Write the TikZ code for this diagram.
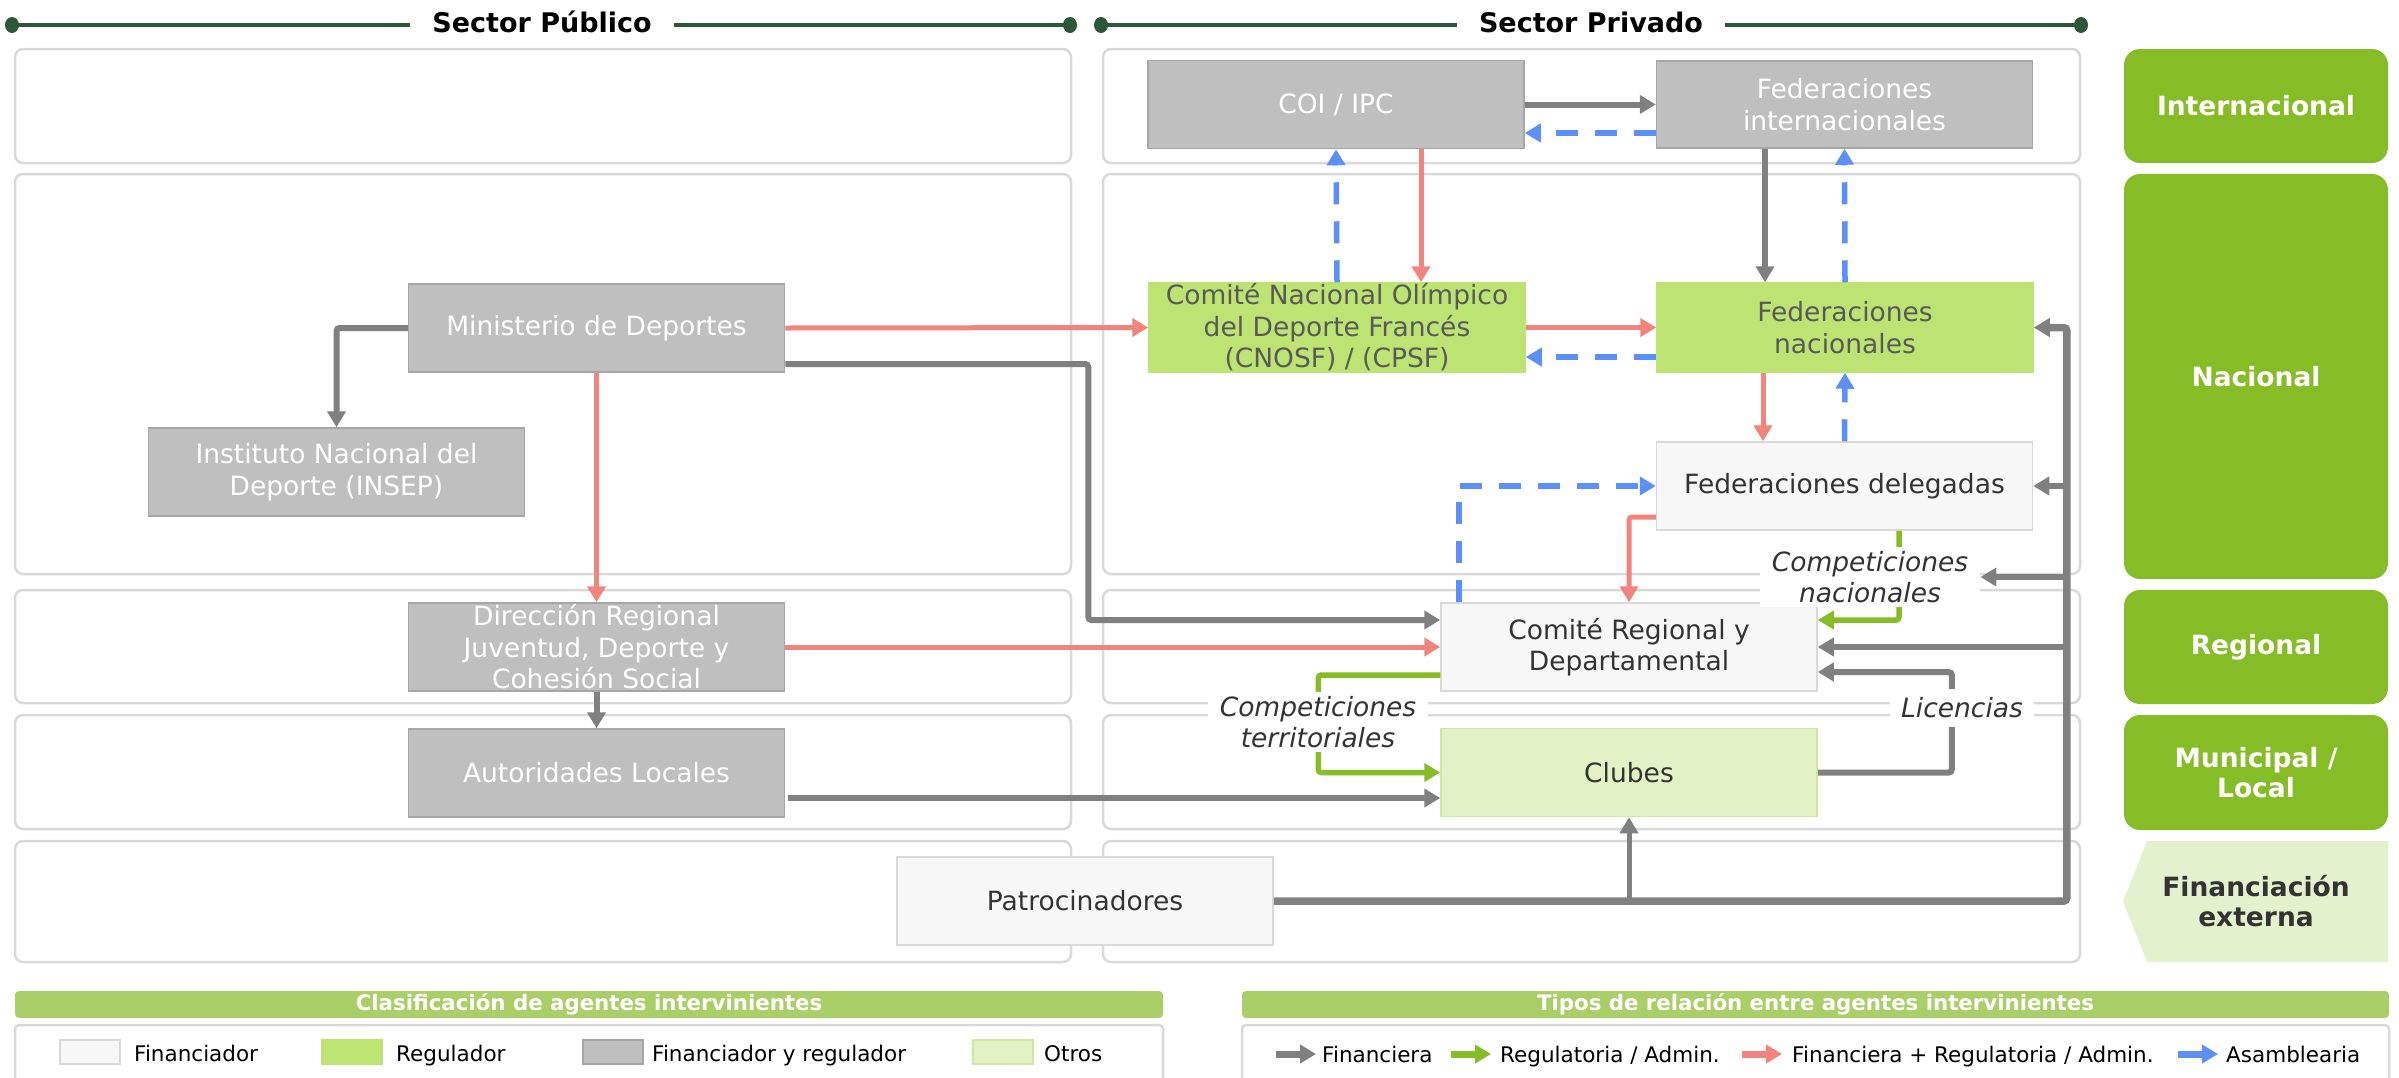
\documentclass[tikz,border=0pt]{standalone}
\usepackage{fontspec}
\setmainfont{DejaVu Sans}
\usetikzlibrary{arrows.meta,calc}
\definecolor{cgray}{RGB}{128,128,128}
\definecolor{cred}{RGB}{239,133,124}
\definecolor{cblue}{RGB}{91,143,249}
\definecolor{cgreen}{RGB}{134,188,37}
\definecolor{boxgray}{RGB}{191,191,191}
\definecolor{boxgrayb}{RGB}{166,166,166}
\definecolor{boxreg}{RGB}{189,228,114}
\definecolor{boxfin}{RGB}{247,247,247}
\definecolor{boxfinb}{RGB}{217,217,217}
\definecolor{boxotr}{RGB}{226,242,196}
\definecolor{boxotrb}{RGB}{205,233,160}
\definecolor{panelb}{RGB}{217,217,217}
\definecolor{hdr}{RGB}{45,88,56}
\definecolor{legbar}{RGB}{170,207,104}
\definecolor{extfill}{RGB}{227,242,205}
\definecolor{txtdark}{RGB}{51,51,51}
\definecolor{txtgreen}{RGB}{89,89,89}
\tikzset{
  agent/.style={draw, line width=1.5pt, inner sep=0pt, align=center,
    font=\fontsize{26.5}{31.5}\selectfont, minimum width=376pt, minimum height=88pt},
  grayag/.style={agent, fill=boxgray, draw=boxgrayb, text=white},
  regag/.style={agent, fill=boxreg, draw=boxreg, text=txtgreen},
  finag/.style={agent, fill=boxfin, draw=boxfinb, text=txtdark},
  otrag/.style={agent, fill=boxotr, draw=boxotrb, text=txtdark},
  tip/.style={-{Triangle[length=16pt,width=18pt]}},
  fin/.style={draw=cgray, line width=6pt, tip},
  reg/.style={draw=cgreen, line width=5.5pt, tip},
  frg/.style={draw=cred, line width=5pt, tip},
  asm/.style={draw=cblue, line width=5.5pt, dash pattern=on 22pt off 17pt, tip},
  lbl/.style={fill=white, font=\fontsize{26.5}{31.5}\selectfont\itshape, text=txtdark,
    align=center, inner xsep=12pt, inner ysep=4pt},
  panel/.style={draw=panelb, line width=2.5pt, rounded corners=8pt},
  lvl/.style={fill=cgreen, rounded corners=16pt, text=white, inner sep=0pt,
    font=\fontsize{26.5}{30}\selectfont\bfseries, align=center, minimum width=264pt},
  hdrtxt/.style={font=\fontsize{27}{30}\selectfont\bfseries, text=black, inner xsep=22pt, inner ysep=2pt},
  legbarst/.style={fill=legbar, rounded corners=4pt, text=white, inner sep=0pt,
    font=\fontsize{21.3}{24}\selectfont\bfseries, minimum height=27pt},
  legtxt/.style={anchor=base west, inner sep=0pt, text=black, font=\fontsize{21.5}{25}\selectfont},
  swatch/.style={line width=1.5pt, minimum width=60pt, minimum height=24pt, inner sep=0pt},
}
\begin{document}
\begin{tikzpicture}[x=1pt,y=-1pt]
\useasboundingbox (0,0) rectangle (2399,1077);
\fill[white] (0,0) rectangle (2399,1077);

% ---------- headers
\coordinate (hl1) at (12,25);
\coordinate (hl2) at (1070,25);
\coordinate (hr1) at (1101,25);
\coordinate (hr2) at (2081,25);
\node[hdrtxt] (hpub) at (542,22) {Sector Público};
\node[hdrtxt] (hpri) at (1591,22) {Sector Privado};
\draw[hdr, line width=3.5pt] (hl1) -- (hl1 -| hpub.west);
\draw[hdr, line width=3.5pt] (hl2 -| hpub.east) -- (hl2);
\draw[hdr, line width=3.5pt] (hr1) -- (hr1 -| hpri.west);
\draw[hdr, line width=3.5pt] (hr2 -| hpri.east) -- (hr2);
\foreach \c in {hl1,hl2,hr1,hr2} \fill[hdr] (\c) ellipse (7pt and 8pt);

% ---------- panels
\foreach \ya/\yb in {49/163,174/574,590/703,715/829,841/962}{
  \draw[panel] (15,\ya) rectangle (1071,\yb);
  \draw[panel] (1103,\ya) rectangle (2080,\yb);
}

% ---------- level labels
\node[lvl, minimum height=114pt] (lint) at (2256,106) {Internacional};
\node[lvl, minimum height=405pt] (lnac) at (2256,376.5) {Nacional};
\node[lvl, minimum height=114pt] (lreg) at (2256,647) {Regional};
\node[lvl, minimum height=115pt] (lmun) at (2256,772.5) {Municipal /\\Local};
\fill[extfill] (2147,841) -- (2388,841) -- (2388,962) -- (2147,962) -- (2123,901.5) -- cycle;
\node[align=center, text=txtdark, font=\fontsize{26.5}{30}\selectfont\bfseries] (lext) at (2256,901.5) {Financiación\\externa};

% ---------- agents
\node[grayag] (coi) at (1336,104.5) {COI / IPC};
\node[grayag, minimum height=87pt] (fedint) at (1844.5,104.5) {Federaciones\\internacionales};
\node[regag, minimum height=89pt] (cnosf) at (1337,327.5) {Comité Nacional Olímpico\\del Deporte Francés\\(CNOSF) / (CPSF)};
\node[regag, minimum height=89pt] (fednac) at (1845,327.5) {Federaciones\\nacionales};
\node[finag] (fedDel) at (1844.5,486) {Federaciones delegadas};
\node[grayag] (mini) at (596.5,328) {Ministerio de Deportes};
\node[grayag] (insep) at (336.5,472) {Instituto Nacional del\\Deporte (INSEP)};
\node[grayag] (dir) at (596.5,647) {Dirección Regional\\Juventud, Deporte y\\Cohesión Social};
\node[grayag] (aut) at (596.5,773) {Autoridades Locales};
\node[finag] (crd) at (1629,647) {Comité Regional y\\Departamental};
\node[otrag] (clubes) at (1629,772.5) {Clubes};
\node[finag] (patro) at (1085,901) {Patrocinadores};

% ---------- connectors
\draw[fin] (coi.east) -- (fedint.west);
\draw[asm] ($(fedint.west)+(0,28.5)$) -- ($(coi.east)+(0,28.5)$);
\draw[asm] (cnosf.north) -- (coi.south);
\draw[frg] ($(coi.south)+(85,0)$) -- ($(cnosf.north)+(84,0)$);
\draw[fin] ($(fedint.south)+(-79.5,0)$) -- ($(fednac.north)+(-80,0)$);
\draw[asm] (fednac.north) -- (fedint.south);
\draw[frg] (cnosf.east) -- (fednac.west);
\draw[asm] ($(fednac.west)+(0,29.5)$) -- ($(cnosf.east)+(0,29.5)$);
\draw[frg] (mini.east) -- (cnosf.west);
\draw[fin, rounded corners=3pt] ($(mini.east)+(0,36)$) -- ++(303,0) |- ($(crd.west)+(0,-27)$);
\draw[fin, rounded corners=3pt] (mini.west) -| (insep.north);
\draw[frg] (mini.south) -- (dir.north);
\draw[fin] (dir.south) -- (aut.north);
\draw[frg] (dir.east) -- (crd.west);
\draw[fin] ($(aut.east)+(3,25)$) -- ($(clubes.west)+(0,25.5)$);
\draw[frg] ($(fednac.south)+(-82,0)$) -- ($(fedDel.north)+(-81.5,0)$);
\draw[asm] (fedDel.north) -- (fednac.south);
\draw[asm] ($(crd.north)+(-170,0)$) |- (fedDel.west);
\draw[frg, rounded corners=3pt] ($(fedDel.west)+(0,31)$) -| (crd.north);
\draw[reg, rounded corners=3pt] ($(fedDel.south)+(54.5,0)$) |- ($(crd.east)+(0,-27)$);
\draw[reg, rounded corners=3pt] ($(crd.west)+(0,28)$) -- ++(-122,0) |- (clubes.west);
\draw[fin, rounded corners=3pt] (clubes.east) -- ++(134,0) |- ($(crd.east)+(0,25)$);

% labels
\node[lbl] (compnac) at (1870,577) {Competiciones\\nacionales};
\node[lbl] (compter) at (1318,722) {Competiciones\\territoriales};
\node[lbl, inner ysep=9pt, inner xsep=11pt] (lic) at (1962,708) {Licencias};

% sponsor bus
\coordinate (busx) at (2067,0);
\draw[fin, line width=7.5pt, rounded corners=3pt] (patro.east) -| ($(fednac.east)+(33,0)$) -- (fednac.east);
\draw[fin] (busx |- fedDel.east) -- (fedDel.east);
\draw[fin] (busx |- compnac.east) -- (compnac.east);
\draw[fin] (busx |- crd.east) -- (crd.east);
\draw[fin, line width=5pt] (patro.east -| clubes.south) -- (clubes.south);

% ---------- legend
\node[legbarst, minimum width=1148pt] (lb1) at (589,1004.5) {Clasificación de agentes intervinientes};
\node[legbarst, minimum width=1147pt] (lb2) at (1815.5,1004.5) {Tipos de relación entre agentes intervinientes};
\draw[panelb, line width=2.5pt, rounded corners=4pt] (15,1100) -- (15,1025) -- (1163,1025) -- (1163,1100);
\draw[panelb, line width=2.5pt, rounded corners=4pt] (1242,1100) -- (1242,1025) -- (2389,1025) -- (2389,1100);

\node[swatch, fill=boxfin, draw=boxfinb] (sw1) at (90,1052) {};
\node[legtxt] (st1) at (134,1061) {Financiador};
\node[swatch, fill=boxreg, draw=boxreg] (sw2) at (352,1052) {};
\node[legtxt] (st2) at (396,1061) {Regulador};
\node[swatch, fill=boxgray, draw=boxgrayb] (sw3) at (613,1052) {};
\node[legtxt] (st3) at (652,1061) {Financiador y regulador};
\node[swatch, fill=boxotr, draw=boxotrb] (sw4) at (1003,1052) {};
\node[legtxt] (st4) at (1044,1061) {Otros};

\coordinate (la1) at (1276,1054); \coordinate (lb1e) at (1316,1054);
\coordinate (la2) at (1451,1054); \coordinate (lb2e) at (1491,1054);
\coordinate (la3) at (1742,1054); \coordinate (lb3e) at (1782,1054);
\coordinate (la4) at (2178,1054); \coordinate (lb4e) at (2218,1054);
\draw[fin, line width=7pt] (la1) -- (lb1e);
\draw[reg, line width=7pt] (la2) -- (lb2e);
\draw[frg, line width=7pt] (la3) -- (lb3e);
\draw[draw=cblue, line width=7pt, tip] (la4) -- (lb4e);
\node[legtxt] (rt1) at (1322,1062) {Financiera};
\node[legtxt] (rt2) at (1500,1062) {Regulatoria / Admin.};
\node[legtxt] (rt3) at (1792,1062) {Financiera + Regulatoria / Admin.};
\node[legtxt] (rt4) at (2226,1062) {Asamblearia};
\end{tikzpicture}
\end{document}
